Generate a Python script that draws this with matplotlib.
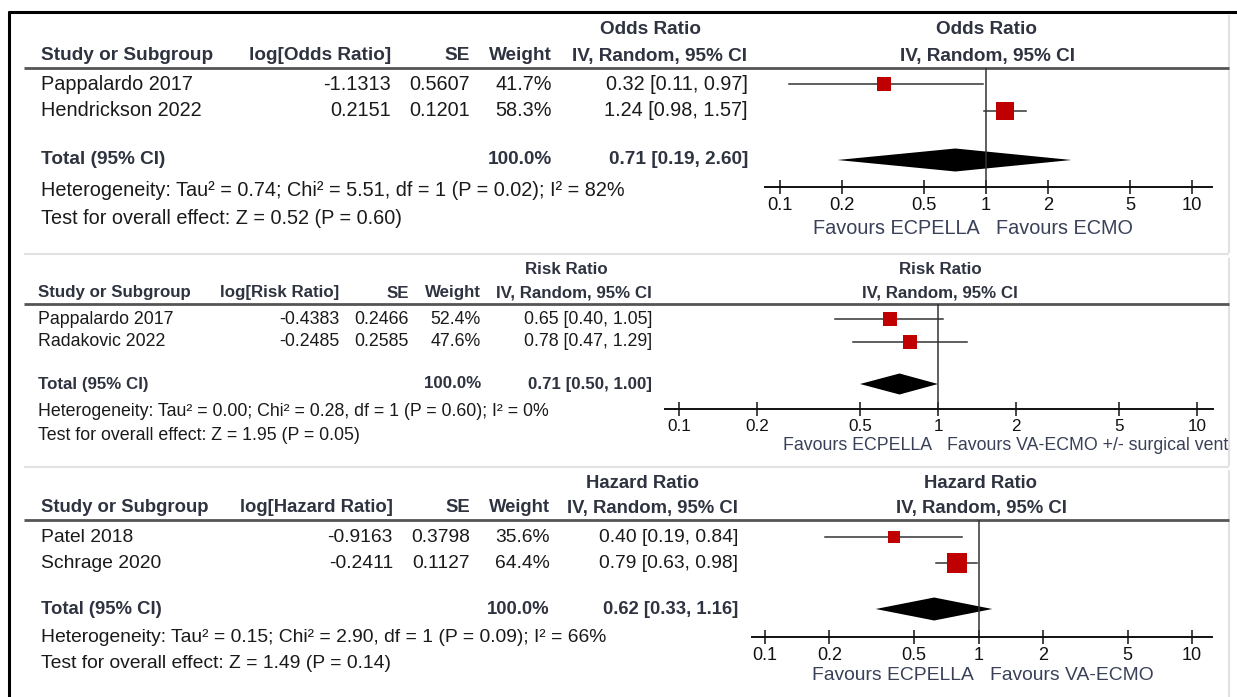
import matplotlib
matplotlib.use("Agg")
import matplotlib.pyplot as plt
from matplotlib.ticker import FixedLocator, FixedFormatter, NullLocator

W, H = 1237, 697

plt.rcParams["font.family"] = ["Liberation Sans", "DejaVu Sans"]

# ---------------- data ----------------
tick_values = [0.1, 0.2, 0.5, 1, 2, 5, 10]
tick_labels = ["0.1", "0.2", "0.5", "1", "2", "5", "10"]

# panel 1: odds ratio
or_studies = ["Pappalardo 2017", "Hendrickson 2022"]
or_log = [-1.1313, 0.2151]
or_se = [0.5607, 0.1201]
or_weight = [41.7, 58.3]
or_est = [0.32, 1.24]
or_low = [0.11, 0.98]
or_high = [0.97, 1.57]
or_total = [0.71, 0.19, 2.60]
or_het = [0.74, 5.51, 1, 0.02, 82]   # tau2, chi2, df, P, I2
or_z = [0.52, 0.60]
or_fav = ["Favours ECPELLA", "Favours ECMO"]

# panel 2: risk ratio
rr_studies = ["Pappalardo 2017", "Radakovic 2022"]
rr_log = [-0.4383, -0.2485]
rr_se = [0.2466, 0.2585]
rr_weight = [52.4, 47.6]
rr_est = [0.65, 0.78]
rr_low = [0.40, 0.47]
rr_high = [1.05, 1.29]
rr_total = [0.71, 0.50, 1.00]
rr_het = [0.00, 0.28, 1, 0.60, 0]
rr_z = [1.95, 0.05]
rr_fav = ["Favours ECPELLA", "Favours VA-ECMO +/- surgical vent"]

# panel 3: hazard ratio
hr_studies = ["Patel 2018", "Schrage 2020"]
hr_log = [-0.9163, -0.2411]
hr_se = [0.3798, 0.1127]
hr_weight = [35.6, 64.4]
hr_est = [0.40, 0.79]
hr_low = [0.19, 0.63]
hr_high = [0.84, 0.98]
hr_total = [0.62, 0.33, 1.16]
hr_het = [0.15, 2.90, 1, 0.09, 66]
hr_z = [1.49, 0.14]
hr_fav = ["Favours ECPELLA", "Favours VA-ECMO"]

# ---------------- layout (pixels) ----------------
HEAD = "#2f3340"
BODY = "#1a1a1a"
FAV = "#394058"
SQ = "#c00000"
LINE = "#333333"

layouts = [
    dict(fs=14.3, fb=13.7, ft=13.2, sq=1.0, dh=11.5,
         grp=30, head=56, rule=68, rows=[84, 111], total=160, het=190, test=218,
         axis=187, fav=228,
         study=41, log_r=391, se_r=470, w_r=552, ci_r=748, ci_c=660, grp_c=650, plot_c=987,
         axis_x=(765, 1212), tick_px=(780, 1192), fav_l=980, fav_r=996),
    dict(fs=12.8, fb=12.2, ft=12.3, sq=0.85, dh=10.5,
         grp=270, head=293, rule=304, rows=[319, 342], total=384, het=412, test=436,
         axis=409, fav=445,
         study=38, log_r=339, se_r=409, w_r=481, ci_r=652, ci_c=574, grp_c=566, plot_c=940,
         axis_x=(665, 1213), tick_px=(679, 1197), fav_l=932, fav_r=947),
    dict(fs=13.9, fb=13.3, ft=13.0, sq=1.0, dh=11.5,
         grp=483, head=508, rule=520, rows=[537, 563], total=609, het=638, test=664,
         axis=637, fav=675,
         study=41, log_r=393, se_r=470, w_r=550, ci_r=738, ci_c=652, grp_c=642, plot_c=981,
         axis_x=(752, 1212), tick_px=(765, 1192), fav_l=974, fav_r=990),
]


def draw_panel(fig, bg, lay, measure, studies, logv, se, weight, est, low, high,
               total, het, z, fav):
    fs, fb = lay["fs"], lay["fb"]
    bold = dict(fontsize=fb, fontweight="bold", color=HEAD, va="center")
    reg = dict(fontsize=fs, color=BODY, va="center")

    # column headers
    bg.text(lay["grp_c"], lay["grp"], measure, ha="center", **bold)
    bg.text(lay["plot_c"], lay["grp"], measure, ha="center", **bold)
    bg.text(lay["study"], lay["head"], "Study or Subgroup", ha="left", **bold)
    bg.text(lay["log_r"], lay["head"], f"log[{measure}]", ha="right", **bold)
    bg.text(lay["se_r"], lay["head"], "SE", ha="right", **bold)
    bg.text(lay["w_r"], lay["head"], "Weight", ha="right", **bold)
    bg.text(lay["ci_c"], lay["head"], "IV, Random, 95% CI", ha="center", **bold)
    bg.text(lay["plot_c"], lay["head"], "IV, Random, 95% CI", ha="center", **bold)
    bg.plot([24, 1229], [lay["rule"]] * 2, color="#555555", lw=2.0,
            solid_capstyle="butt")

    # study rows
    for i, name in enumerate(studies):
        y = lay["rows"][i]
        bg.text(lay["study"], y, name, ha="left", **reg)
        bg.text(lay["log_r"], y, f"{logv[i]:.4f}", ha="right", **reg)
        bg.text(lay["se_r"], y, f"{se[i]:.4f}", ha="right", **reg)
        bg.text(lay["w_r"], y, f"{weight[i]:.1f}%", ha="right", **reg)
        bg.text(lay["ci_r"], y, f"{est[i]:.2f} [{low[i]:.2f}, {high[i]:.2f}]",
                ha="right", **reg)

    # totals
    te, tl, th = total
    bg.text(lay["study"], lay["total"], "Total (95% CI)", ha="left", **bold)
    bg.text(lay["w_r"], lay["total"], "100.0%", ha="right", **bold)
    bg.text(lay["ci_r"], lay["total"], f"{te:.2f} [{tl:.2f}, {th:.2f}]",
            ha="right", **bold)
    tau2, chi2, df, p, i2 = het
    bg.text(lay["study"], lay["het"],
            f"Heterogeneity: Tau\u00b2 = {tau2:.2f}; Chi\u00b2 = {chi2:.2f}, "
            f"df = {df} (P = {p:.2f}); I\u00b2 = {i2}%", ha="left", **reg)
    bg.text(lay["study"], lay["test"],
            f"Test for overall effect: Z = {z[0]:.2f} (P = {z[1]:.2f})",
            ha="left", **reg)

    # forest plot axes, y in pixel units
    x0, x1 = lay["axis_x"]
    a, b = lay["tick_px"]
    lo = 10 ** (-1 + 2 * (x0 - a) / (b - a))
    hi = 10 ** (-1 + 2 * (x1 - a) / (b - a))
    top, bot = lay["rule"], lay["axis"]
    ax = fig.add_axes([x0 / W, 1 - bot / H, (x1 - x0) / W, (bot - top) / H])
    ax.set_xscale("log")
    ax.set_xlim(lo, hi)
    ax.set_ylim(bot, top)
    ax.patch.set_visible(False)
    for s in ["top", "left", "right"]:
        ax.spines[s].set_visible(False)
    ax.spines["bottom"].set_linewidth(1.4)
    ax.spines["bottom"].set_color("#111111")
    ax.xaxis.set_major_locator(FixedLocator(tick_values))
    ax.xaxis.set_major_formatter(FixedFormatter(tick_labels))
    ax.xaxis.set_minor_locator(NullLocator())
    ax.tick_params(axis="x", direction="inout", length=10, width=1.1,
                   labelsize=lay["ft"], pad=2.0, colors="#111111")
    ax.set_yticks([])

    ax.plot([1, 1], [top, bot], color=LINE, lw=1.1)
    for i in range(len(est)):
        y = lay["rows"][i]
        ax.plot([low[i], high[i]], [y, y], color=LINE, lw=1.1)
        side = (0.28 * weight[i] + 2) * lay["sq"] * 0.72
        ax.plot(est[i], y, marker="s", ms=side, color=SQ, mec=SQ, mew=0)
    yt, dh = lay["total"], lay["dh"]
    ax.fill([tl, te, th, te], [yt, yt - dh, yt, yt + dh], color="black", lw=0)

    bg.text(lay["fav_l"], lay["fav"], fav[0], ha="right", va="center",
            fontsize=fs, color=FAV)
    bg.text(lay["fav_r"], lay["fav"], fav[1], ha="left", va="center",
            fontsize=fs, color=FAV)


fig = plt.figure(figsize=(W / 100, H / 100), dpi=100)
bg = fig.add_axes([0, 0, 1, 1])
bg.set_xlim(0, W)
bg.set_ylim(H, 0)
bg.axis("off")

# frame and separators
bg.plot([8.5, 8.5], [11, H], color="black", lw=2.2, solid_capstyle="butt")
bg.plot([7.5, W], [12, 12], color="black", lw=2.2, solid_capstyle="butt")
for y in [254, 467]:
    bg.plot([24, 1229], [y, y], color="#e2e2e2", lw=1.5, solid_capstyle="butt")
for ya, yb in [(15, 253), (258, 466), (470, H)]:
    bg.plot([1229, 1229], [ya, yb], color="#e2e2e2", lw=1.5, solid_capstyle="butt")

draw_panel(fig, bg, layouts[0], "Odds Ratio", or_studies, or_log, or_se, or_weight,
           or_est, or_low, or_high, or_total, or_het, or_z, or_fav)
draw_panel(fig, bg, layouts[1], "Risk Ratio", rr_studies, rr_log, rr_se, rr_weight,
           rr_est, rr_low, rr_high, rr_total, rr_het, rr_z, rr_fav)
draw_panel(fig, bg, layouts[2], "Hazard Ratio", hr_studies, hr_log, hr_se, hr_weight,
           hr_est, hr_low, hr_high, hr_total, hr_het, hr_z, hr_fav)

fig.savefig("out.png", dpi=100)
